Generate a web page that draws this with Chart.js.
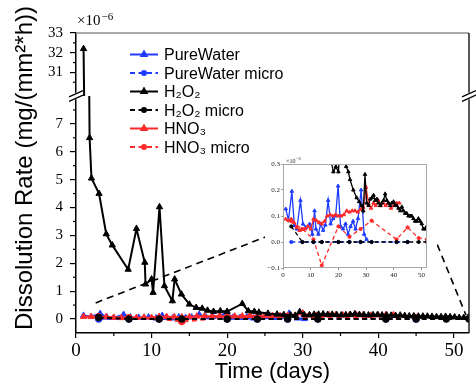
<!DOCTYPE html>
<html>
<head>
<meta charset="utf-8">
<script src="https://cdn.jsdelivr.net/npm/chart.js@4.4.1/dist/chart.umd.min.js"></script>
<style>
  html, body { margin: 0; padding: 0; background: #fff; }
  #wrap { position: relative; width: 476px; height: 385px; }
  #main { position: absolute; left: 0; top: 0; }
  #inset { position: absolute; left: 265px; top: 150px; background: #fff; }
</style>
</head>
<body>
<div id="wrap">
  <canvas id="main" width="476" height="385"></canvas>
  <canvas id="inset" width="172" height="133"></canvas>
</div>
<script>
// dissolution rate, in units of 1e-6 mg/(mm^2*h), against time in days

const pureDays = [1, 2, 3.2, 4.1, 5, 6.3, 7.2, 8.3, 9.6, 10.6, 11.4, 11.9, 12.8, 13.6, 14.5, 15.3,
  16.3, 17.2, 18.1, 19.0, 19.9, 20.8, 21.7, 22.6, 23.5, 24.4, 25.3, 26.2, 27.1, 28.2, 29.3, 30.2];
const pureRate = [0.127, 0.085, 0.195, 0.063, 0.05, 0.16, 0.069, 0.056, 0.069, 0.03, 0.12, 0.05, 0.03, 0.07, 0.045, 0.065,
  0.16, 0.07, 0.09, 0.1, 0.215, 0.06, 0.05, 0.07, 0.03, 0.06, 0.08, 0.05, 0.09, 0.20, 0.03, 0.01];

const pureMicroDays = [3, 7, 11, 14, 20, 24, 28, 32, 41, 45];
const pureMicroRate = [0, 0, 0, 0, 0, 0, 0, 0, 0, 0];

const h2o2Days = [1, 1.8, 2.05, 3.05, 4, 4.8, 6.9, 8, 9.1, 9.2, 10, 10.2, 11.05, 11.7, 12.75, 13.05, 13.95, 15, 15.9, 16.7,
  17.4, 18.2, 19.1, 20, 22, 22.8, 23.6, 24.2, 25.4, 26.6, 27.5, 28.4, 29, 29.6, 30.2, 30.9, 31.5, 32.1, 32.7, 33.3,
  33.9, 34.5, 35.1, 35.7, 36.3, 36.9, 37.5, 38.1, 38.7, 39.3, 39.9, 40.5, 41.1, 41.7, 42.3, 42.9, 43.5, 44.1, 44.7, 45.3,
  45.9, 46.5, 47.1, 47.7, 48.3, 48.9, 49.5, 50.1, 50.7, 51.3, 51.9];
const h2o2Rate = [32.2, 6.5, 5.05, 4.5, 3.05, 2.65, 1.78, 3.24, 2.03, 1.25, 1.43, 0.95, 4.02, 1.19, 0.65, 1.43, 0.89, 0.53, 0.41, 0.38,
  0.31, 0.27, 0.29, 0.27, 0.55, 0.29, 0.27, 0.24, 0.2, 0.17, 0.155, 0.14, 0.12, 0.26, 0.15, 0.14, 0.165, 0.17, 0.18, 0.16,
  0.165, 0.15, 0.14, 0.15, 0.16, 0.185, 0.16, 0.15, 0.14, 0.15, 0.155, 0.14, 0.14, 0.13, 0.12, 0.135, 0.12, 0.11, 0.11, 0.10,
  0.10, 0.10, 0.09, 0.08, 0.08, 0.09, 0.08, 0.07, 0.05, 0.05, 0.06];

const h2o2MicroDays = [3, 7, 11, 14, 20, 24, 28, 32, 41, 45, 49, 52];
const h2o2MicroRate = [0.06, 0, 0, 0, 0, 0, 0, 0, 0, 0, 0, 0];

const hno3Days = [1, 2, 3, 4, 5, 6, 7, 8, 9, 10, 11, 12, 13, 14, 15, 16, 17, 18, 19, 20, 21, 22, 23, 24, 25, 26, 27, 28, 29, 30,
  30.9, 31.8, 32.7, 33.5, 34.4, 35.3, 36.2, 37.1, 38, 39, 40, 41, 42];
const hno3Rate = [0.088, 0.083, 0.088, 0.075, 0.056, 0.044, 0.05, 0.05, 0.06, 0.05, 0.088, 0.083, 0.075, 0.07, 0.08, 0.1, 0.105, 0.1, 0.105, 0.1,
  0.1, 0.105, 0.12, 0.115, 0.12, 0.12, 0.115, 0.125, 0.133, 0.21, 0.147, 0.13, 0.15, 0.14, 0.16, 0.14, 0.15, 0.14, 0.15, 0.13, 0.14, 0.15, 0.15];

const hno3MicroDays = [3, 7, 11, 14, 20, 24, 28, 32, 41, 45, 49, 52];
const hno3MicroRate = [0.08, 0.05, 0.01, -0.09, 0.06, 0.02, 0.05, 0.082, 0.01, 0.056, 0.015, 0.01];

const xTicks = [0, 10, 20, 30, 40, 50];
const xMinorTicks = [5, 15, 25, 35, 45];
const lowTicks = [0, 1, 2, 3, 4, 5, 6, 7];
const lowMinorTicks = [0.5, 1.5, 2.5, 3.5, 4.5, 5.5, 6.5, 7.5];
const topTicks = [31, 32, 33];
const topMinorTicks = [30.5, 31.5, 32.5];
const insetYTicks = [-0.1, 0, 0.1, 0.2, 0.3];

// dashed guides from the near-zero band up to the inset
const zoomGuides = [[2.6, 0.58, 25.7, 3.01], [47.2, 3.07, 51.6, 0.14]];

const BLUE = '#1e3cff';
const RED = '#ff2a2a';
const BLACK = '#000000';
const DASH = [5, 3.5];

const series = [
  { label: 'PureWater', days: pureDays, rate: pureRate, color: BLUE, dashed: false, marker: 'triangle', order: 5 },
  { label: 'PureWater micro', days: pureMicroDays, rate: pureMicroRate, color: BLUE, dashed: true, marker: 'circle', order: 4 },
  { label: 'H₂O₂', days: h2o2Days, rate: h2o2Rate, color: BLACK, dashed: false, marker: 'triangle', order: 1 },
  { label: 'H₂O₂ micro', days: h2o2MicroDays, rate: h2o2MicroRate, color: BLACK, dashed: true, marker: 'circle', order: 0 },
  { label: 'HNO₃', days: hno3Days, rate: hno3Rate, color: RED, dashed: false, marker: 'triangle', order: 3 },
  { label: 'HNO₃ micro', days: hno3MicroDays, rate: hno3MicroRate, color: RED, dashed: true, marker: 'circle', order: 2 },
];

function toPoints(days, rate) {
  return days.map(function (d, i) { return { x: d, y: rate[i] }; });
}

function makeDataset(s, axisId, lineWidth, triR, dotR, dash) {
  return {
    label: s.label,
    data: toPoints(s.days, s.rate),
    yAxisID: axisId,
    order: s.order,
    borderColor: s.color,
    backgroundColor: s.color,
    borderWidth: lineWidth,
    borderDash: s.dashed ? dash : [],
    pointStyle: s.marker,
    pointRadius: s.marker === 'triangle' ? triR : dotR,
    pointBackgroundColor: s.color,
    pointBorderColor: s.color,
    pointBorderWidth: 1,
    tension: 0,
    fill: false,
  };
}

function fixedTicks(values) {
  return function (scale) { scale.ticks = values.map(function (v) { return { value: v }; }); };
}

function line(ctx, x0, y0, x1, y1) {
  ctx.beginPath();
  ctx.moveTo(x0, y0);
  ctx.lineTo(x1, y1);
  ctx.stroke();
}

function drawMarker(ctx, style, x, y, r) {
  ctx.beginPath();
  if (style === 'triangle') {
    let rad = 0;
    ctx.moveTo(x + Math.sin(rad) * r, y - Math.cos(rad) * r);
    rad += Math.PI * 2 / 3;
    ctx.lineTo(x + Math.sin(rad) * r, y - Math.cos(rad) * r);
    rad += Math.PI * 2 / 3;
    ctx.lineTo(x + Math.sin(rad) * r, y - Math.cos(rad) * r);
    ctx.closePath();
  } else {
    ctx.arc(x, y, r, 0, Math.PI * 2);
  }
  ctx.fill();
}

function breakMark(ctx, x, y) {
  const dx = 7, dy = 3.2, gap = 4.5;
  ctx.fillStyle = '#fff';
  ctx.fillRect(x - 2, y - gap / 2 - 1, 4, gap + 2);
  ctx.strokeStyle = '#000';
  ctx.lineWidth = 1.3;
  line(ctx, x - dx, y + dy - gap / 2, x + dx, y - dy - gap / 2);
  line(ctx, x - dx, y + dy + gap / 2, x + dx, y - dy + gap / 2);
}

// each dataset only paints inside the band of its own y scale
const clipToScale = {
  id: 'clipToScale',
  beforeDatasetDraw(chart, args) {
    const y = args.meta.yScale, a = chart.chartArea, ctx = chart.ctx;
    ctx.save();
    ctx.beginPath();
    ctx.rect(a.left, y.top, a.right - a.left, y.bottom - y.top);
    ctx.clip();
  },
  afterDatasetDraw(chart) {
    chart.ctx.restore();
  },
};

const mainFrame = {
  id: 'mainFrame',
  beforeDatasetsDraw(chart) {
    const ctx = chart.ctx, x = chart.scales.x, y = chart.scales.yLow;
    ctx.save();
    ctx.strokeStyle = '#000';
    ctx.lineWidth = 1.6;
    ctx.setLineDash([7, 5]);
    zoomGuides.forEach(function (g) {
      line(ctx, x.getPixelForValue(g[0]), y.getPixelForValue(g[1]), x.getPixelForValue(g[2]), y.getPixelForValue(g[3]));
    });
    ctx.restore();
  },
  afterDraw(chart) {
    const ctx = chart.ctx, a = chart.chartArea;
    const x = chart.scales.x, lo = chart.scales.yLow, hi = chart.scales.yTop;
    ctx.save();

    ctx.strokeStyle = '#8c8c8c';
    ctx.lineWidth = 1.5;
    line(ctx, a.left, a.top, a.right, a.top);
    ctx.strokeStyle = '#222';
    line(ctx, a.right, a.top, a.right, a.bottom);

    ctx.strokeStyle = '#000';
    ctx.lineWidth = 1.2;
    xMinorTicks.forEach(function (v) {
      const px = x.getPixelForValue(v);
      line(ctx, px, a.bottom, px, a.bottom + 3);
    });
    lowMinorTicks.forEach(function (v) {
      const py = lo.getPixelForValue(v);
      line(ctx, a.left - 3, py, a.left, py);
    });
    topMinorTicks.forEach(function (v) {
      const py = hi.getPixelForValue(v);
      if (py < hi.bottom - 2) line(ctx, a.left - 3, py, a.left, py);
    });

    breakMark(ctx, a.left, hi.bottom);
    breakMark(ctx, a.right, hi.bottom);

    // exponent of the y axis
    ctx.fillStyle = '#000';
    ctx.textBaseline = 'alphabetic';
    ctx.textAlign = 'left';
    ctx.font = '15px "Liberation Serif"';
    ctx.fillText('×10', 77, 25);
    const w = ctx.measureText('×10').width;
    ctx.font = '11px "Liberation Serif"';
    ctx.fillText('−6', 77 + w + 1, 20);

    // y axis title spans both bands
    ctx.save();
    ctx.translate(32, 168);
    ctx.rotate(-Math.PI / 2);
    ctx.textAlign = 'center';
    ctx.font = '24px "Liberation Sans"';
    ctx.fillText('Dissolution Rate (mg/(mm²*h))', 0, 0);
    ctx.restore();

    // legend
    const lx0 = 130, lx1 = 158, tx = 164, ly0 = 54.5, step = 18.5;
    series.forEach(function (s, i) {
      const y = ly0 + i * step;
      ctx.strokeStyle = s.color;
      ctx.lineWidth = 2;
      ctx.setLineDash(s.dashed ? DASH : []);
      line(ctx, lx0, y, lx1, y);
      ctx.setLineDash([]);
      ctx.fillStyle = s.color;
      drawMarker(ctx, s.marker, (lx0 + lx1) / 2, y, s.marker === 'triangle' ? 5 : 3);
      ctx.fillStyle = '#000';
      ctx.font = '16px "Liberation Sans"';
      ctx.textAlign = 'left';
      ctx.fillText(s.label, tx, y + 5.7);
    });

    ctx.restore();
  },
};

const mainDatasets = series.map(function (s) { return makeDataset(s, 'yLow', 2, 3.6, 3.3, DASH); });
// the first H2O2 point sits above the axis break
mainDatasets.push(makeDataset(series[2], 'yTop', 2, 3.6, 3.3, DASH));

new Chart(document.getElementById('main'), {
  type: 'line',
  data: { datasets: mainDatasets },
  options: {
    responsive: false,
    animation: false,
    devicePixelRatio: 1,
    events: [],
    layout: { padding: { top: 33, right: 7, left: 0, bottom: 0 } },
    scales: {
      x: {
        type: 'linear',
        min: 0,
        max: 52,
        afterBuildTicks: fixedTicks(xTicks),
        afterFit: function (s) { s.height = 52; },
        ticks: { font: { family: 'Liberation Serif', size: 19 }, color: '#000', padding: 2, autoSkip: false, maxRotation: 0, minRotation: 0 },
        grid: { drawOnChartArea: false, tickLength: 5, color: '#000', lineWidth: 1.2 },
        border: { color: '#000', width: 1.5 },
        title: { display: true, text: 'Time (days)', font: { family: 'Liberation Sans', size: 22 }, color: '#000', padding: { top: 0, bottom: 0 } },
      },
      yLow: {
        type: 'linear',
        position: 'left',
        stack: 'rate',
        stackWeight: 237,
        min: -0.5,
        max: 8.0,
        afterBuildTicks: fixedTicks(lowTicks),
        afterFit: function (s) { s.width = 76; },
        ticks: { font: { family: 'Liberation Serif', size: 15 }, color: '#000', padding: 7, autoSkip: false },
        grid: { drawOnChartArea: false, tickLength: 6, color: '#000', lineWidth: 1.2 },
        border: { color: '#000', width: 1.5 },
      },
      yTop: {
        type: 'linear',
        position: 'left',
        stack: 'rate',
        stackWeight: 63,
        min: 29.8,
        max: 33,
        afterBuildTicks: fixedTicks(topTicks),
        afterFit: function (s) { s.width = 76; },
        ticks: { font: { family: 'Liberation Serif', size: 15 }, color: '#000', padding: 7, autoSkip: false },
        grid: { drawOnChartArea: false, tickLength: 6, color: '#000', lineWidth: 1.2 },
        border: { color: '#000', width: 1.5 },
      },
    },
    plugins: { legend: { display: false }, tooltip: { enabled: false } },
  },
  plugins: [clipToScale, mainFrame],
});

// inset: same series on a close-up of the band near zero
const insetFrame = {
  id: 'insetFrame',
  afterDraw(chart) {
    const ctx = chart.ctx, a = chart.chartArea;
    ctx.save();
    ctx.strokeStyle = '#a8a8a8';
    ctx.lineWidth = 1;
    ctx.strokeRect(a.left + 0.5, a.top + 0.5, a.right - a.left - 1, a.bottom - a.top - 1);
    ctx.fillStyle = '#222';
    ctx.textBaseline = 'alphabetic';
    ctx.font = '6px "Liberation Serif"';
    ctx.fillText('×10', a.left + 3, a.top - 1.5);
    const w = ctx.measureText('×10').width;
    ctx.font = '4.5px "Liberation Serif"';
    ctx.fillText('−6', a.left + 3 + w + 0.5, a.top - 4);
    ctx.restore();
  },
};

new Chart(document.getElementById('inset'), {
  type: 'line',
  data: { datasets: series.map(function (s) { return makeDataset(s, 'y', 1.3, 2, 1.6, [4, 3]); }) },
  options: {
    responsive: false,
    animation: false,
    devicePixelRatio: 1,
    events: [],
    layout: { padding: { top: 14, right: 10, left: 0, bottom: 0 } },
    scales: {
      x: {
        type: 'linear',
        min: 0,
        max: 52,
        afterBuildTicks: fixedTicks(xTicks),
        afterFit: function (s) { s.height = 15; },
        ticks: { font: { family: 'Liberation Serif', size: 7 }, color: '#222', padding: 1, autoSkip: false, maxRotation: 0, minRotation: 0 },
        grid: { drawOnChartArea: false, tickLength: 2, color: '#999' },
        border: { display: false },
      },
      y: {
        type: 'linear',
        min: -0.1,
        max: 0.3,
        afterBuildTicks: fixedTicks(insetYTicks),
        afterFit: function (s) { s.width = 18; },
        ticks: {
          font: { family: 'Liberation Serif', size: 7 }, color: '#222', padding: 1, autoSkip: false,
          callback: function (v) { return v.toFixed(1).replace('-', '−'); },
        },
        grid: { drawOnChartArea: false, tickLength: 2, color: '#999' },
        border: { display: false },
      },
    },
    plugins: { legend: { display: false }, tooltip: { enabled: false } },
  },
  plugins: [insetFrame],
});
</script>
</body>
</html>
